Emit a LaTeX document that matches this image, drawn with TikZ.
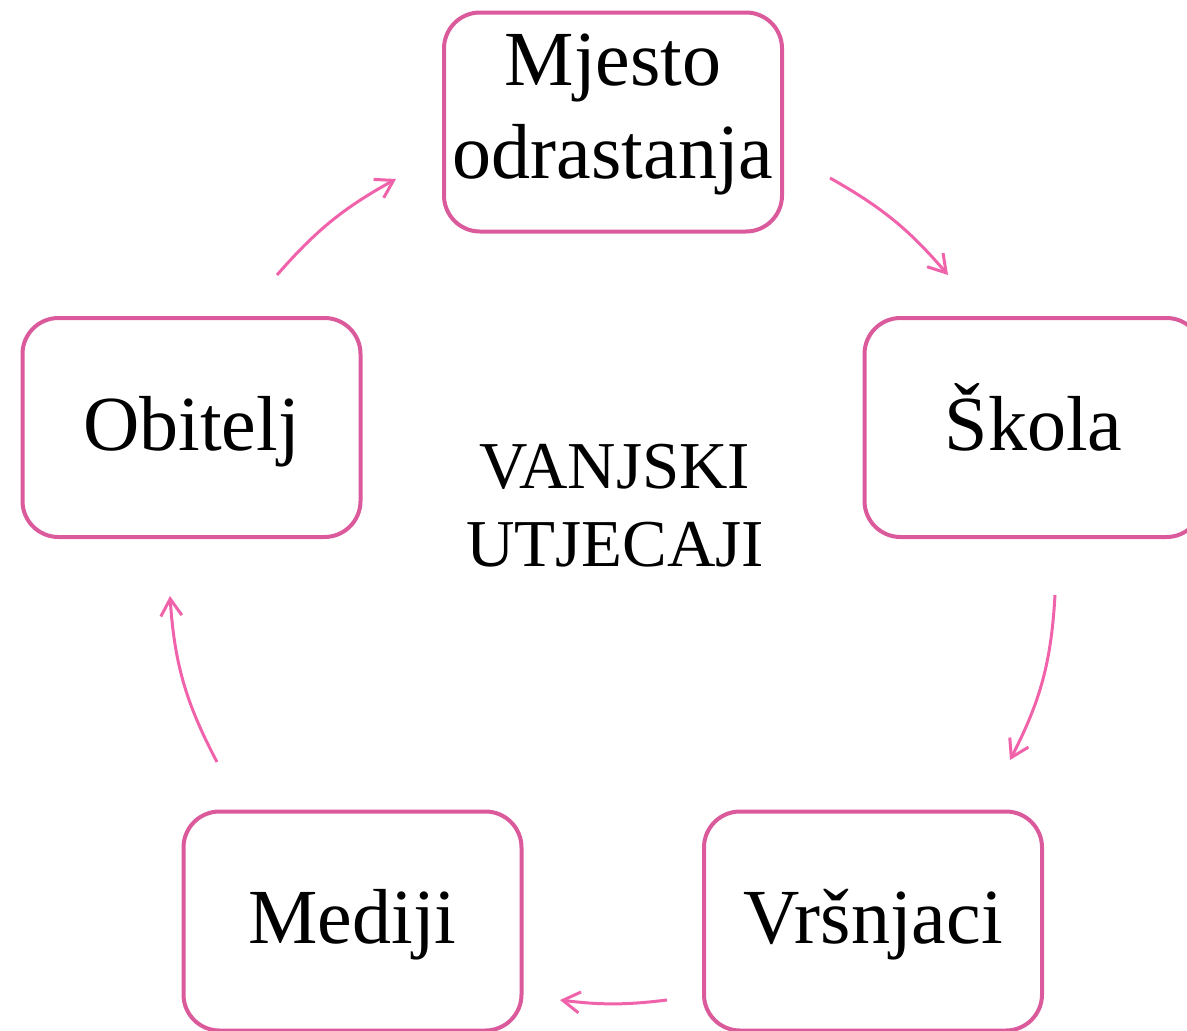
\documentclass[tikz,border=0pt]{standalone}
\usepackage{fontspec}
\setmainfont{Liberation Serif}
\usetikzlibrary{arrows.meta}
\definecolor{boxpink}{HTML}{DA5A9C}
\definecolor{arrowpink}{HTML}{F062AA}
\begin{document}
\begin{tikzpicture}[x=1pt,y=-1pt,
  boxnode/.style={draw=boxpink, line width=4pt, rounded corners=36pt,
    minimum width=338pt, minimum height=219pt, align=center, fill=white,
    font=\fontsize{78}{93}\selectfont, inner sep=0pt,
    text height=60pt, text depth=15pt},
  cyc/.style={draw=arrowpink, line width=3pt,
    -{Straight Barb[length=17pt,width=21pt,line width=3pt]}}]
\useasboundingbox (0,0) rectangle (1187,1031);
\clip (0,0) rectangle (1187,1031);
\node[boxnode, text height=140pt, text depth=28pt] (mjesto) at (613,122) {Mjesto\\odrastanja};
\node[boxnode] (skola) at (1033.5,427.5) {Škola};
\node[boxnode] (obitelj) at (191.5,427.5) {Obitelj};
\node[boxnode] (mediji) at (352.5,921) {Mediji};
\node[boxnode] (vrsnjaci) at (873,921) {Vršnjaci};
\node[align=center, font=\fontsize{67}{78}\selectfont, inner sep=0pt] (centre) at (615,506) {VANJSKI\\UTJECAJI};
\coordinate (a1s) at (277,275); \coordinate (a1e) at (396,179);
\coordinate (a2s) at (830,178); \coordinate (a2e) at (948,275);
\coordinate (a3s) at (1055,595); \coordinate (a3e) at (1010,760);
\coordinate (a4s) at (667,1000); \coordinate (a4e) at (560,1000);
\coordinate (a5s) at (217,762); \coordinate (a5e) at (170,596);
\draw[cyc] (a1s) to[bend left=10] (a1e);
\draw[cyc] (a2s) to[bend left=10] (a2e);
\draw[cyc] (a3s) to[bend left=12] (a3e);
\draw[cyc] (a4s) to[bend left=7] (a4e);
\draw[cyc] (a5s) to[bend left=12] (a5e);
\end{tikzpicture}
\end{document}
